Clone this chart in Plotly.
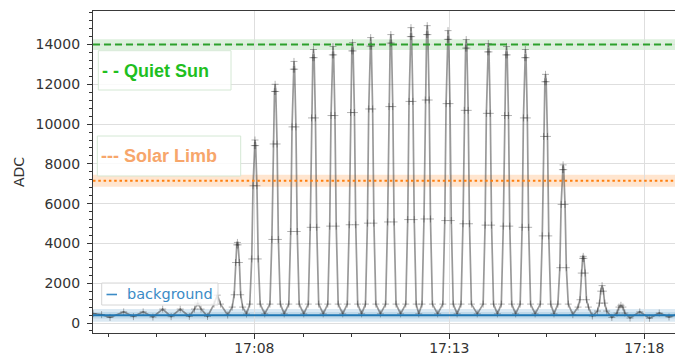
import pandas as pd
import plotly.graph_objects as go

# ---- data (seconds after 17:00:00, ADC counts) ----
time_s = [
    232, 245, 258, 279, 294, 309, 324, 339, 352, 366, 380, 388, 393, 398, 408, 418, 423, 428, 439,
    446, 449, 451, 453, 454, 455, 457, 459, 462, 468,
    473, 476, 478, 480, 481, 482, 484, 486, 489, 496,
    504, 507, 509, 511, 512, 513, 515, 517, 520, 526,
    533, 536, 538, 540, 541, 542, 544, 546, 549, 556,
    563, 566, 568, 570, 571, 572, 574, 576, 579, 586,
    593, 596, 598, 600, 601, 602, 604, 606, 609, 616,
    623, 626, 628, 630, 631, 632, 634, 636, 639, 645,
    651, 654, 656, 658, 659, 660, 662, 664, 667, 674,
    682, 685, 687, 689, 690, 691, 693, 695, 698, 705,
    713, 716, 718, 720, 721, 722, 724, 726, 729, 733,
    738, 741, 743, 745, 746, 747, 749, 751, 754, 762,
    770, 773, 775, 777, 778, 779, 781, 783, 786, 792,
    798, 801, 803, 805, 806, 807, 809, 811, 814, 823,
    832, 835, 837, 839, 840, 841, 843, 845, 848, 854,
    860, 863, 865, 867, 868, 869, 871, 873, 876, 882,
    889, 892, 894, 896, 897, 898, 900, 902, 905, 912,
    920, 923, 925, 927, 928, 929, 931, 933, 936, 941,
    947, 950, 952, 954, 955, 956, 958, 960, 963, 970,
    978, 981, 983, 985, 986, 987, 989, 991, 994, 1000,
    1008, 1011, 1013, 1015, 1017, 1019, 1022, 1030,
    1038, 1041, 1044, 1047, 1050, 1058,
    1073, 1088, 1103, 1118, 1132, 1142,
]
adc = [
    470, 420, 280, 560, 320, 560, 300, 700, 320, 700, 330, 700, 1000, 700, 330, 950, 1400, 950, 400,
    800, 1420, 3040, 3930, 4050, 3930, 3040, 1420, 800, 450,
    950, 3220, 6900, 8920, 9200, 8920, 6900, 3220, 950, 460,
    950, 4200, 9000, 11640, 12000, 11640, 9000, 4200, 950, 460,
    950, 4600, 9860, 12760, 13150, 12760, 9860, 4600, 950, 460,
    950, 4810, 10310, 13340, 13750, 13340, 10310, 4810, 950, 460,
    950, 4870, 10430, 13480, 13900, 13480, 10430, 4870, 950, 460,
    950, 4940, 10580, 13680, 14100, 13680, 10580, 4940, 950, 460,
    950, 5020, 10760, 13920, 14350, 13920, 10760, 5020, 950, 460,
    950, 5080, 10880, 14070, 14500, 14070, 10880, 5080, 950, 460,
    950, 5200, 11140, 14400, 14850, 14400, 11140, 5200, 950, 460,
    950, 5230, 11210, 14500, 14950, 14500, 11210, 5230, 950, 460,
    950, 5150, 11030, 14260, 14700, 14260, 11030, 5150, 950, 460,
    950, 4990, 10690, 13820, 14250, 13820, 10690, 4990, 950, 460,
    950, 4920, 10540, 13630, 14050, 13630, 10540, 4920, 950, 460,
    950, 4870, 10430, 13480, 13900, 13480, 10430, 4870, 950, 460,
    950, 4810, 10310, 13340, 13750, 13340, 10310, 4810, 950, 460,
    950, 4380, 9380, 12130, 12500, 12130, 9380, 4380, 950, 460,
    950, 2780, 5960, 7710, 7950, 7710, 5960, 2780, 950, 420,
    800, 1170, 2510, 3250, 3350, 3250, 2510, 1170, 800, 350,
    600, 1000, 1600, 1880, 1600, 1000, 600, 280,
    500, 800, 890, 800, 500, 250,
    560, 240, 500, 300, 450, 330,
]

# reference levels (value, half-width of shaded band)
quiet_sun_level, quiet_sun_band = 14000, 270
solar_limb_level, solar_limb_band = 7150, 300
background_level = 390
background_band_outer = (60, 700)
background_band_inner = (230, 550)

y_ticks = [0, 2000, 4000, 6000, 8000, 10000, 12000, 14000]

base = pd.Timestamp("2021-01-01 17:00:00")
times = [base + pd.to_timedelta(s, unit="s") for s in time_s]
x_start = base + pd.to_timedelta(231.8, unit="s")
x_end = base + pd.to_timedelta(1139.5, unit="s")
tick0 = base + pd.to_timedelta(480, unit="s")

fig = go.Figure()
fig.add_trace(go.Scatter(
    x=times, y=adc, mode="lines+markers", showlegend=False,
    line=dict(color="rgba(60,60,60,0.52)", width=1.7),
    marker=dict(symbol="cross-thin", size=5,
                line=dict(width=1, color="rgba(35,35,35,0.35)")),
))

shapes = []
# shaded bands
shapes.append(dict(type="rect", xref="paper", x0=0, x1=1, yref="y",
                   y0=quiet_sun_level - quiet_sun_band, y1=quiet_sun_level + quiet_sun_band,
                   fillcolor="rgba(44,160,44,0.16)", line=dict(width=0), layer="between"))
shapes.append(dict(type="rect", xref="paper", x0=0, x1=1, yref="y",
                   y0=solar_limb_level - solar_limb_band, y1=solar_limb_level + solar_limb_band,
                   fillcolor="rgba(255,127,14,0.2)", line=dict(width=0), layer="between"))
shapes.append(dict(type="rect", xref="paper", x0=0, x1=1, yref="y",
                   y0=background_band_outer[0], y1=background_band_outer[1],
                   fillcolor="rgba(31,119,180,0.16)", line=dict(width=0), layer="between"))
shapes.append(dict(type="rect", xref="paper", x0=0, x1=1, yref="y",
                   y0=background_band_inner[0], y1=background_band_inner[1],
                   fillcolor="rgba(31,119,180,0.14)", line=dict(width=0), layer="between"))
# level lines
shapes.append(dict(type="line", xref="paper", x0=0, x1=1, yref="y",
                   y0=quiet_sun_level, y1=quiet_sun_level,
                   line=dict(color="#2ca02c", width=2, dash="7px,4px"), layer="above"))
shapes.append(dict(type="line", xref="paper", x0=0, x1=1, yref="y",
                   y0=solar_limb_level, y1=solar_limb_level,
                   line=dict(color="#ff7f0e", width=2, dash="2.5px,2.8px"), layer="above"))
shapes.append(dict(type="line", xref="paper", x0=0, x1=1, yref="y",
                   y0=background_level, y1=background_level,
                   line=dict(color="#1f77b4", width=1.8), layer="above"))

# legend boxes (screen pixel layout converted to paper coordinates)
L, W, B, H = 93, 590, 333, 322
def px(x):
    return (x - L) / W
def py(y):
    return (B - y) / H

shapes.append(dict(type="rect", xref="paper", yref="paper",
                   x0=px(98.3), x1=px(231), y0=py(90), y1=py(50.7),
                   fillcolor="rgba(255,255,255,0.85)",
                   line=dict(color="#d4e8d4", width=1), layer="above"))
shapes.append(dict(type="rect", xref="paper", yref="paper",
                   x0=px(97.3), x1=px(240.7), y0=py(176), y1=py(136),
                   fillcolor="rgba(255,255,255,0.85)",
                   line=dict(color="#d4e8d4", width=1), layer="above"))
shapes.append(dict(type="rect", xref="paper", yref="paper",
                   x0=px(101.7), x1=px(218), y0=py(305), y1=py(283),
                   fillcolor="rgba(255,255,255,0.8)",
                   line=dict(color="#d6d6d6", width=1), layer="above"))
# background legend handle
shapes.append(dict(type="line", xref="paper", yref="paper",
                   x0=px(106.5), x1=px(117), y0=py(294.5), y1=py(294.5),
                   line=dict(color="#3b8bc6", width=1.6), layer="above"))

annotations = [
    dict(xref="paper", yref="paper", x=px(99.5), y=py(70.5), xanchor="left", yanchor="middle",
         text="<b>- - Quiet Sun</b>", showarrow=False,
         font=dict(family="Liberation Sans, Arial", size=18, color="#1fbf1f")),
    dict(xref="paper", yref="paper", x=px(98.5), y=py(156), xanchor="left", yanchor="middle",
         text="<b>--- Solar Limb</b>", showarrow=False,
         font=dict(family="Liberation Sans, Arial", size=18, color="#f7a66b")),
    dict(xref="paper", yref="paper", x=px(124.5), y=py(294), xanchor="left", yanchor="middle",
         text="background", showarrow=False,
         font=dict(family="DejaVu Sans", size=14.5, color="#3b8bc6")),
    dict(xref="paper", yref="paper", x=px(19), y=0.5, xanchor="center", yanchor="middle",
         text="ADC", textangle=-90, showarrow=False,
         font=dict(family="DejaVu Sans", size=14, color="#333333")),
]

# the page body adds an 8px offset, so the figure is 8px smaller and margins shifted
fig.update_layout(
    width=675, height=349,
    margin=dict(l=85, r=0, t=3, b=24, autoexpand=False),
    paper_bgcolor="white", plot_bgcolor="white",
    shapes=shapes, annotations=annotations,
    showlegend=False,
)
fig.update_xaxes(
    type="date", range=[x_start, x_end], tickformat="%H:%M",
    tick0=tick0, dtick=300000, automargin=False,
    ticks="outside", ticklen=5, tickwidth=1.2, tickcolor="#333333",
    showline=True, linecolor="#3a3a3a", linewidth=1.3, mirror=True,
    showgrid=True, gridcolor="#dedede", gridwidth=1, zeroline=False,
    tickfont=dict(family="DejaVu Sans", size=14, color="#333333"),
    ticklabelstandoff=-3,
    minor=dict(tick0=tick0, dtick=75000, ticks="outside", ticklen=3,
               tickcolor="#333333", showgrid=False),
)
fig.update_yaxes(
    range=[-503, 15686], tickmode="array", tickvals=y_ticks,
    ticktext=[str(v) for v in y_ticks], automargin=False,
    ticks="outside", ticklen=5, tickwidth=1.2, tickcolor="#333333",
    showline=True, linecolor="#3a3a3a", linewidth=1.3,
    showgrid=True, gridcolor="#dedede", gridwidth=1, zeroline=False,
    tickfont=dict(family="DejaVu Sans", size=14, color="#333333"),
    ticklabelstandoff=4,
    minor=dict(tick0=0, dtick=400, ticks="outside", ticklen=3,
               tickcolor="#333333", showgrid=False),
)

fig.write_html("out.html")
